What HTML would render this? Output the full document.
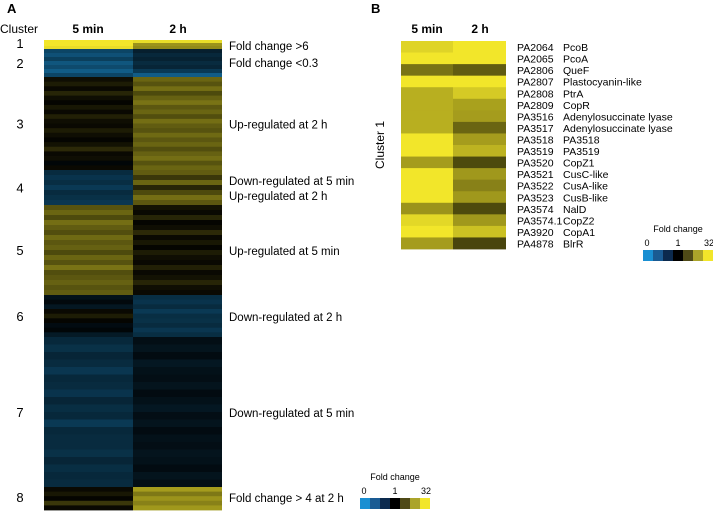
<!DOCTYPE html>
<html><head><meta charset="utf-8"><style>
html,body{margin:0;padding:0;background:#fff;}
svg, svg text{font-family:"Liberation Sans",Arial,sans-serif;}
svg{display:block;}
</style></head><body>
<svg id="fig" width="713" height="511" viewBox="0 0 713 511" font-family="Liberation Sans, sans-serif">
<text x="7" y="13" font-size="13" font-weight="bold">A</text>
<text x="371" y="13" font-size="13" font-weight="bold">B</text>
<text x="0" y="33" font-size="12">Cluster</text>
<text x="88" y="33" font-size="12" font-weight="bold" text-anchor="middle">5 min</text>
<text x="178" y="33" font-size="12" font-weight="bold" text-anchor="middle">2 h</text>
<text x="427" y="33" font-size="12" font-weight="bold" text-anchor="middle">5 min</text>
<text x="480" y="33" font-size="12" font-weight="bold" text-anchor="middle">2 h</text>
<text transform="translate(384,145) rotate(-90)" font-size="12" text-anchor="middle">Cluster 1</text>
<g id="heatA"></g>
<g id="heatB"></g>
<g id="legA"></g>
<g id="legB"></g>
</svg>
<script>
// Panel A clusters
const clusterIds = ["1","2","3","4","5","6","7","8"];
const clusterBounds = [40,49,77,170,205,295,337,487,510];
const clusterNotes = [["Fold change >6"],["Fold change <0.3"],["Up-regulated at 2 h"],["Down-regulated at 5 min","Up-regulated at 2 h"],["Up-regulated at 5 min"],["Down-regulated at 2 h"],["Down-regulated at 5 min"],["Fold change > 4 at 2 h"]];
const a5min = [
 [5,5,4.8],
 [-2.4,-2.8,-2.2,-3,-2.6,-3.2,-2.4],
 [0.3,0.6,0.2,0.8,0.3,0.1,0.5,0.2,0.7,0.3,0.2,0.6,0.3,0.1,0.4,0.9,0.2,0.3,-0.2,0.2],
 [-1.5,-1.8,-1.6,-2,-1.5,-1.7,-1.9],
 [1.8,2.2,1.6,2.4,2,1.7,2.3,1.9,2.1,1.6,2.2,1.8,2.5,1.7,1.9,2.1,1.8,2.0],
 [-0.6,-0.3,-0.8,0.2,0.6,0.1,-0.4,-0.2,-0.9],
 [-1.4,-1.7,-1.3,-1.5,-1.9,-1.4,-1.5,-1.8,-1.3,-1.6,-1.4,-2,-1.4,-1.5,-1.5,-1.7,-1.3,-1.6,-1.4,-1.5],
 [0.2,0.5,0.1,1.2,0.2]
];
const a2h = [
 [4.8,3.2,3],
 [-1.1,-1.4,-1.2,-1.5,-1.3,-2,-3.2],
 [2.2,1.8,2.4,1.6,2.1,2.5,1.9,2.2,1.7,2.4,2,1.8,2.3,1.9,2.2,1.7,2.1,2.4,1.8,2.2],
 [2,1.2,2.2,0.8,1.6,2.4,1.9],
 [0.4,0.2,0.8,0.1,0.3,0.9,0.2,0.5,0.1,0.6,0.3,0.2,0.7,0.2,0.4,0.8,0.3,0.2],
 [-1.6,-1.8,-1.5,-2,-1.6,-1.7,-1.5,-1.9,-1.6],
 [-0.5,-0.7,-0.4,-0.8,-0.6,-0.5,-0.7,-0.4,-0.6,-0.8,-0.5,-0.7,-0.4,-0.6,-0.5,-0.7,-0.6,-0.4,-0.7,-0.5],
 [3.4,2.6,3.2,2.8,3.3]
];
// Panel B
const geneIds = ["PA2064","PA2065","PA2806","PA2807","PA2808","PA2809","PA3516","PA3517","PA3518","PA3519","PA3520","PA3521","PA3522","PA3523","PA3574","PA3574.1","PA3920","PA4878"];
const geneNames = ["PcoB","PcoA","QueF","Plastocyanin-like","PtrA","CopR","Adenylosuccinate lyase","Adenylosuccinate lyase","PA3518","PA3519","CopZ1","CusC-like","CusA-like","CusB-like","NalD","CopZ2","CopA1","BlrR"];
const b5min = [4.6,5,2.5,5,3.8,3.8,3.8,3.8,5,5,3.4,5,5,5,3.2,4.7,5,3.4];
const b2h = [5,5,2,5,4.4,3.5,3.4,2.2,3.4,3.9,1.6,3.3,2.8,3.3,1.6,3.3,4.2,1.5];
const legendColors = ["#1a8fd2","#1a5b93","#0c2a4e","#000000","#4f4a17","#aba42a","#f2e62a"];
const legendTicks = ["0","1","32"];

const NS="http://www.w3.org/2000/svg";
const FONT="Liberation Sans, Arial, sans-serif";
function color(v){
  v=Math.max(-5,Math.min(5,v));
  let r,g,b;
  if(v>=0){const t=v/5;r=242*t;g=230*t;b=42*t;}
  else{const t=-v/5;r=26*t;g=143*t;b=210*t;}
  return `rgb(${Math.round(r)},${Math.round(g)},${Math.round(b)})`;
}
function mk(tag,attrs,parent){const e=document.createElementNS(NS,tag);for(const k in attrs)e.setAttribute(k,attrs[k]);if(tag==='text')e.setAttribute('font-family',FONT);parent.appendChild(e);return e;}

const hA=document.getElementById('heatA');
const colA=[[44,89],[133,89]];
const colDataA=[a5min,a2h];
for(let c=0;c<clusterIds.length;c++){
  const y0=clusterBounds[c],y1=clusterBounds[c+1];
  for(let s=0;s<2;s++){
    const vals=colDataA[s][c];const h=(y1-y0)/vals.length;
    for(let i=0;i<vals.length;i++){
      const r=mk('rect',{x:colA[s][0],y:y0+i*h,width:colA[s][1],height:h+0.4,fill:color(vals[i])},hA);
      
      
    }
  }
  const mid=(y0+y1)/2;
  const ly = c===0?y0+8:(c===7?y0+15:mid+5);
  const t=mk('text',{x:20,y:ly,'font-size':13,'text-anchor':'middle'},hA);t.textContent=clusterIds[c];
  
  
  const notes=clusterNotes[c];
  notes.forEach((n,k)=>{
    const ny = c===0?y0+10:(c===1?y0+18:(c===7?y0+15:ly+(k-(notes.length-1)/2)*15));
    const tt=mk('text',{x:229,y:ny,'font-size':11.5},hA);tt.textContent=n;
    
    
  });
}

const hB=document.getElementById('heatB');
const topB=41,rowH=(249-41)/geneIds.length;
for(let i=0;i<geneIds.length;i++){
  const y=topB+i*rowH;
  const r1=mk('rect',{x:401,y:y,width:52,height:rowH+0.4,fill:color(b5min[i])},hB);
  
  
  const r2=mk('rect',{x:453,y:y,width:53,height:rowH+0.4,fill:color(b2h[i])},hB);
  
  
  const t1=mk('text',{x:517,y:y+rowH-1.5,'font-size':10.5},hB);t1.textContent=geneIds[i];
  
  
  const t2=mk('text',{x:563,y:y+rowH-1.5,'font-size':10.5},hB);t2.textContent=geneNames[i];
  
  
}

function legend(g,x,y){
  const w=10;
  legendColors.forEach((c,i)=>{
    const r=mk('rect',{x:x+i*w,y:y,width:w,height:11,fill:c},g);
    
    
  });
  const t=mk('text',{x:x+35,y:y-18,'font-size':9,'text-anchor':'middle'},g);t.textContent="Fold change";
  
  
  const tx=[x+4,x+35,x+66];
  legendTicks.forEach((s,i)=>{
    const tt=mk('text',{x:tx[i],y:y-4,'font-size':9,'text-anchor':'middle'},g);tt.textContent=s;
    
    
  });
}
legend(document.getElementById('legA'),360,498);
legend(document.getElementById('legB'),643,250);
</script>
</body></html>
